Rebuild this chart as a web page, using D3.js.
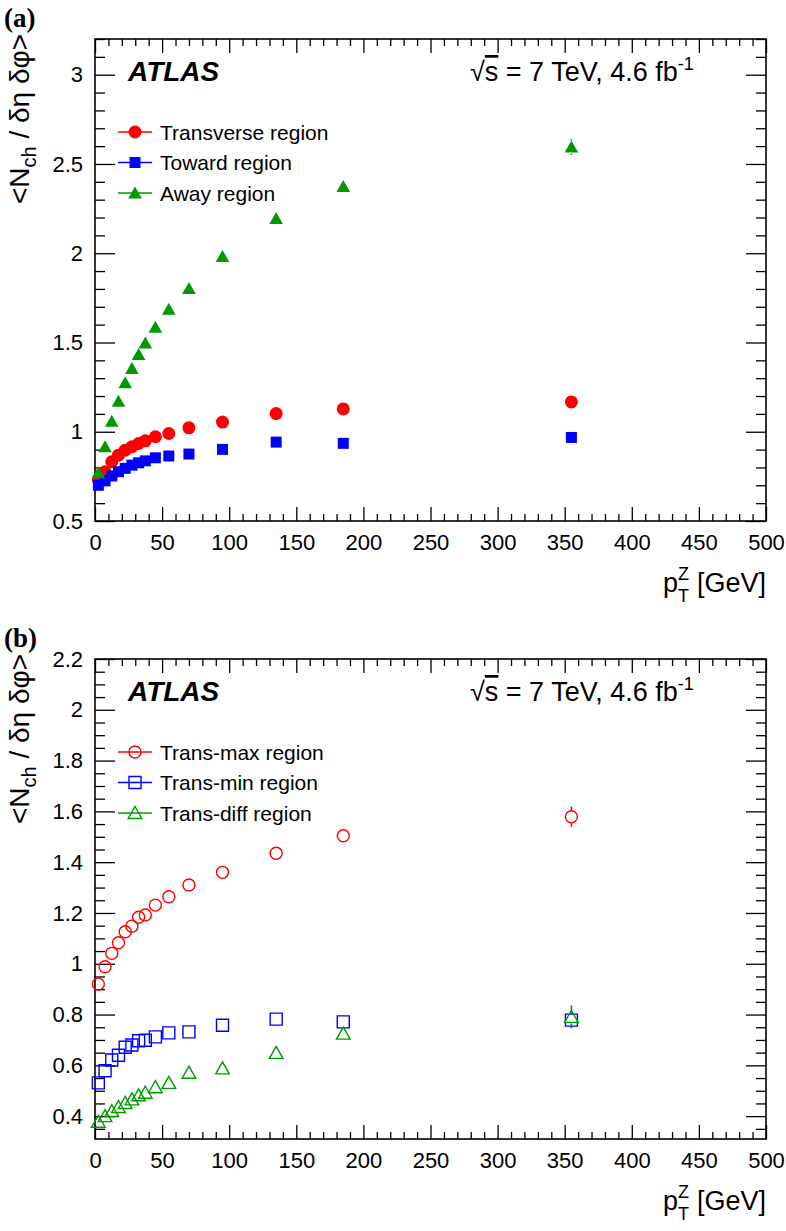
<!DOCTYPE html>
<html>
<head>
<meta charset="utf-8">
<script src="https://cdn.jsdelivr.net/npm/d3@7"></script>
<style>
  html, body { margin: 0; padding: 0; background: #fff; }
  svg { display: block; }
</style>
</head>
<body>
<svg id="chart" width="786" height="1231"></svg>
<script>
// ---------------- data ----------------
const pTZ = [2.5, 7.5, 12.5, 17.5, 22.5, 27.5, 32.5, 37.5, 45, 55, 70, 95, 135, 185, 355];

// panel (a)
const transverse = [0.73, 0.776, 0.832, 0.869, 0.897, 0.916, 0.934, 0.949, 0.972, 0.99, 1.022, 1.054, 1.102, 1.128, 1.167];
const transverseErr = [0.004, 0.004, 0.004, 0.004, 0.004, 0.004, 0.005, 0.005, 0.005, 0.005, 0.006, 0.007, 0.009, 0.012, 0.02];
const toward = [0.70, 0.725, 0.752, 0.776, 0.795, 0.813, 0.826, 0.837, 0.854, 0.864, 0.875, 0.901, 0.942, 0.935, 0.968];
const towardErr = [0.004, 0.004, 0.004, 0.004, 0.004, 0.004, 0.005, 0.005, 0.005, 0.005, 0.006, 0.007, 0.009, 0.012, 0.015];
const away = [0.77, 0.916, 1.059, 1.171, 1.274, 1.354, 1.432, 1.497, 1.585, 1.686, 1.803, 1.982, 2.195, 2.374, 2.595];
const awayErr = [0.005, 0.005, 0.006, 0.006, 0.006, 0.007, 0.007, 0.008, 0.008, 0.009, 0.01, 0.012, 0.015, 0.02, 0.045];

// panel (b)
const transMax = [0.92, 0.988, 1.041, 1.083, 1.126, 1.148, 1.183, 1.192, 1.231, 1.264, 1.31, 1.36, 1.435, 1.504, 1.579];
const transMaxErr = [0.005, 0.005, 0.005, 0.005, 0.005, 0.006, 0.006, 0.006, 0.007, 0.008, 0.009, 0.011, 0.014, 0.02, 0.04];
const transMin = [0.531, 0.579, 0.621, 0.64, 0.671, 0.68, 0.697, 0.699, 0.712, 0.728, 0.732, 0.758, 0.782, 0.771, 0.778];
const transMinErr = [0.004, 0.004, 0.004, 0.004, 0.004, 0.004, 0.005, 0.005, 0.005, 0.005, 0.006, 0.007, 0.009, 0.012, 0.03];
const transDiff = [0.378, 0.40, 0.42, 0.436, 0.452, 0.466, 0.482, 0.492, 0.514, 0.531, 0.571, 0.588, 0.649, 0.725, 0.791];
const transDiffErr = [0.005, 0.005, 0.005, 0.005, 0.005, 0.006, 0.006, 0.006, 0.007, 0.008, 0.009, 0.011, 0.014, 0.02, 0.045];

// axes
const xDomain = [0, 500];
const xTicks = [0, 50, 100, 150, 200, 250, 300, 350, 400, 450, 500];
const xTickLabels = ["0", "50", "100", "150", "200", "250", "300", "350", "400", "450", "500"];
const yDomainA = [0.5, 3.2];
const yTicksA = [0.5, 1, 1.5, 2, 2.5, 3];
const yTickLabelsA = ["0.5", "1", "1.5", "2", "2.5", "3"];
const yDomainB = [0.31, 2.2];
const yTicksB = [0.4, 0.6, 0.8, 1, 1.2, 1.4, 1.6, 1.8, 2, 2.2];
const yTickLabelsB = ["0.4", "0.6", "0.8", "1", "1.2", "1.4", "1.6", "1.8", "2", "2.2"];

const legendA = ["Transverse region", "Toward region", "Away region"];
const legendB = ["Trans-max region", "Trans-min region", "Trans-diff region"];

// ---------------- drawing ----------------
const RED = "#ff0000", BLUE = "#0000ff", GREEN = "#009a00";
const SANS = "'Liberation Sans', Arial, Helvetica, sans-serif";
const SERIF = "'Liberation Serif', 'Times New Roman', serif";
const svg = d3.select("#chart");

const frameX0 = 95, frameX1 = 766;
const R = 6.5; // half-size of markers

function markerPath(shape) {
  if (shape === "square") return "M-5.5,-5.5H5.5V5.5H-5.5Z";
  if (shape === "triangle") return "M0,-6.5L6.8,5.5L-6.8,5.5Z";
  if (shape === "osquare") return "M-6,-6H6V6H-6Z";
  if (shape === "otriangle") return "M0,-6.5L6.8,5.5L-6.8,5.5Z";
}

function drawMarker(g, shape, color, open) {
  if (shape === "circle" || shape === "ocircle") {
    g.append("circle").attr("r", open ? 6 : 6.5)
      .attr("fill", open ? "none" : color)
      .attr("stroke", color).attr("stroke-width", open ? 1.4 : 0);
  } else {
    g.append("path").attr("d", markerPath(shape))
      .attr("fill", open ? "none" : color)
      .attr("stroke", color).attr("stroke-width", open ? 1.4 : 0);
  }
}

function styleText(sel, size) {
  sel.style("font-family", SANS).attr("font-size", size).attr("fill", "#000");
}

function drawPanel(opts) {
  const top = opts.top, bottom = opts.bottom;
  const x = d3.scaleLinear().domain(xDomain).range([frameX0, frameX1]);
  const y = d3.scaleLinear().domain(opts.yDomain).range([bottom, top]);
  const W = frameX1 - frameX0, H = bottom - top;
  const g = svg.append("g");

  // minor x ticks (every 10)
  const xMinor = d3.range(0, 501, 10).filter(v => v % 50 !== 0);
  g.append("g").attr("transform", `translate(0,${bottom})`)
    .call(d3.axisBottom(x).tickValues(xMinor).tickSize(-7).tickFormat(""))
    .call(s => s.select(".domain").remove());
  g.append("g").attr("transform", `translate(0,${top})`)
    .call(d3.axisTop(x).tickValues(xMinor).tickSize(-7).tickFormat(""))
    .call(s => s.select(".domain").remove());
  // major x ticks
  g.append("g").attr("transform", `translate(0,${bottom})`)
    .call(d3.axisBottom(x).tickValues(xTicks).tickSize(-14).tickPadding(13)
      .tickFormat((d, i) => xTickLabels[i]))
    .call(s => s.select(".domain").remove())
    .call(s => styleText(s.selectAll("text"), 22));
  g.append("g").attr("transform", `translate(0,${top})`)
    .call(d3.axisTop(x).tickValues(xTicks).tickSize(-14).tickFormat(""))
    .call(s => s.select(".domain").remove());

  // y ticks
  const yMinor = opts.yMinor;
  g.append("g").attr("transform", `translate(${frameX0},0)`)
    .call(d3.axisLeft(y).tickValues(yMinor).tickSize(-10).tickFormat(""))
    .call(s => s.select(".domain").remove());
  g.append("g").attr("transform", `translate(${frameX1},0)`)
    .call(d3.axisRight(y).tickValues(yMinor).tickSize(-10).tickFormat(""))
    .call(s => s.select(".domain").remove());
  g.append("g").attr("transform", `translate(${frameX0},0)`)
    .call(d3.axisLeft(y).tickValues(opts.yTicks).tickSize(-20).tickPadding(12)
      .tickFormat((d, i) => opts.yTickLabels[i]))
    .call(s => s.select(".domain").remove())
    .call(s => styleText(s.selectAll("text"), 22));
  g.append("g").attr("transform", `translate(${frameX1},0)`)
    .call(d3.axisRight(y).tickValues(opts.yTicks).tickSize(-20).tickFormat(""))
    .call(s => s.select(".domain").remove());

  g.selectAll(".tick line").attr("stroke", "#000").attr("stroke-width", 1.3);

  // frame
  g.append("rect").attr("x", frameX0).attr("y", top).attr("width", W).attr("height", H)
    .attr("fill", "none").attr("stroke", "#000").attr("stroke-width", 1.6);

  // series: error bars drawn outside the marker, then markers
  opts.series.forEach(s => {
    const sg = g.append("g");
    s.values.forEach((v, i) => {
      const cx = x(pTZ[i]), cy = y(v);
      const yLo = y(v - s.err[i]), yHi = y(v + s.err[i]);
      if (yLo - cy > R) {
        sg.append("line").attr("x1", cx).attr("x2", cx).attr("y1", cy + R).attr("y2", yLo)
          .attr("stroke", s.color).attr("stroke-width", 1.6);
      }
      if (cy - yHi > R) {
        sg.append("line").attr("x1", cx).attr("x2", cx).attr("y1", cy - R).attr("y2", yHi)
          .attr("stroke", s.color).attr("stroke-width", 1.6);
      }
      const m = sg.append("g").attr("transform", `translate(${cx},${cy})`);
      drawMarker(m, s.shape, s.color, s.open);
    });
  });

  // ATLAS label
  g.append("text").attr("x", 128).attr("y", top + 42)
    .style("font-family", SANS).attr("font-size", 28)
    .attr("font-weight", "bold").attr("font-style", "italic")
    .text("ATLAS");

  // energy / lumi
  const t = g.append("text").attr("x", 470).attr("y", top + 42)
    .style("font-family", SANS).attr("font-size", 27);
  t.append("tspan").text("√");
  t.append("tspan").attr("text-decoration", "overline").text("s");
  t.append("tspan").text(" = 7 TeV, 4.6 fb");
  t.append("tspan").attr("dy", -11).attr("font-size", 18).text("-1");

  // legend
  opts.legend.forEach((lab, i) => {
    const s = opts.series[i];
    const cy = top + 93 + i * 30.5;
    const lg = g.append("g");
    lg.append("line").attr("x1", 118).attr("x2", 152).attr("y1", cy).attr("y2", cy)
      .attr("stroke", s.color).attr("stroke-width", 1.6);
    const m = lg.append("g").attr("transform", `translate(135,${cy})`);
    drawMarker(m, s.shape, s.color, s.open);
    lg.append("text").attr("x", 160).attr("y", cy + 7.5)
      .style("font-family", SANS).attr("font-size", 21).text(lab);
  });

  // x title p_T^Z [GeV], right aligned
  const xt = g.append("g");
  const base = bottom + 71;
  const p = xt.append("text").attr("y", base).style("font-family", SANS).attr("font-size", 27).text("p");
  const sup = xt.append("text").attr("y", base - 12).style("font-family", SANS).attr("font-size", 18).text("Z");
  const sub = xt.append("text").attr("y", base + 10).style("font-family", SANS).attr("font-size", 18).text("T");
  const rest = xt.append("text").attr("y", base).style("font-family", SANS).attr("font-size", 27).text("[GeV]");
  const pw = p.node().getComputedTextLength();
  const sw = Math.max(sup.node().getComputedTextLength(), sub.node().getComputedTextLength());
  const rw = rest.node().getComputedTextLength();
  const gap = 8;
  const x0 = 766 - (pw + sw + gap + rw);
  p.attr("x", x0);
  sup.attr("x", x0 + pw);
  sub.attr("x", x0 + pw);
  rest.attr("x", x0 + pw + sw + gap);

  // y title
  const yt = g.append("text")
    .attr("transform", `translate(29,${top - 5}) rotate(-90)`)
    .attr("text-anchor", "end").style("font-family", SANS).attr("font-size", 28);
  yt.append("tspan").text("<N");
  yt.append("tspan").attr("font-size", 20).attr("dy", 7).text("ch");
  yt.append("tspan").attr("dy", -7).text(" / δη δφ>");

  // panel label
  svg.append("text").attr("x", 4).attr("y", top - 12)
    .style("font-family", SERIF)
    .attr("font-weight", "bold").attr("font-size", 27).text(opts.label);
}

drawPanel({
  top: 39, bottom: 521, label: "(a)",
  yDomain: yDomainA, yTicks: yTicksA, yTickLabels: yTickLabelsA,
  yMinor: d3.range(6, 33).map(v => v / 10).filter(v => Math.abs(v * 2 - Math.round(v * 2)) > 1e-6),
  legend: legendA,
  series: [
    { values: transverse, err: transverseErr, color: RED, shape: "circle", open: false },
    { values: toward, err: towardErr, color: BLUE, shape: "square", open: false },
    { values: away, err: awayErr, color: GREEN, shape: "triangle", open: false }
  ]
});

drawPanel({
  top: 659, bottom: 1139, label: "(b)",
  yDomain: yDomainB, yTicks: yTicksB, yTickLabels: yTickLabelsB,
  yMinor: d3.range(7, 44).map(v => v / 20).filter(v => Math.abs(v * 5 - Math.round(v * 5)) > 1e-6),
  legend: legendB,
  series: [
    { values: transMax, err: transMaxErr, color: RED, shape: "ocircle", open: true },
    { values: transMin, err: transMinErr, color: BLUE, shape: "osquare", open: true },
    { values: transDiff, err: transDiffErr, color: GREEN, shape: "otriangle", open: true }
  ]
});
</script>
</body>
</html>
